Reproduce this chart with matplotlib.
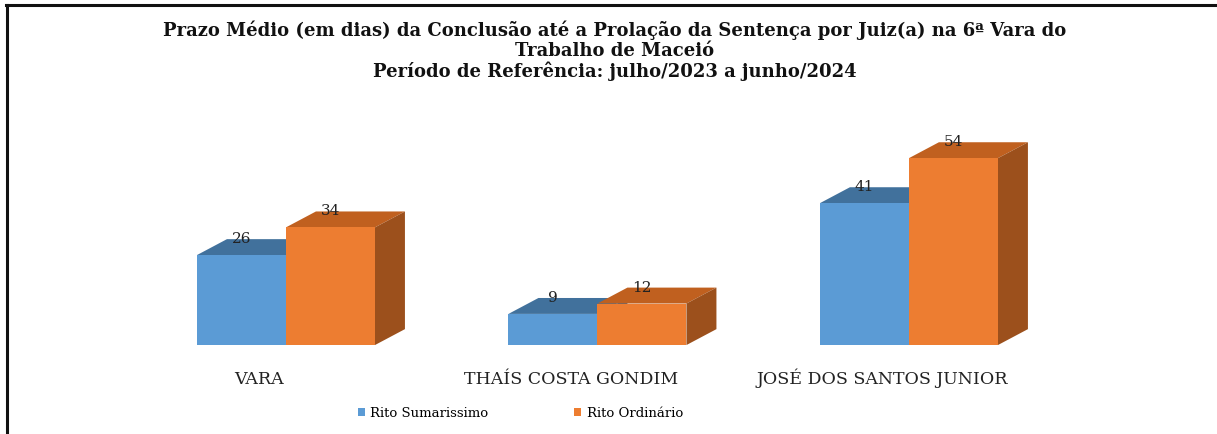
import numpy as np
import matplotlib
matplotlib.use("Agg")
import matplotlib.pyplot as plt
from matplotlib.patches import Polygon, Patch
from matplotlib.lines import Line2D

categories = ["VARA", "THAÍS COSTA GONDIM", "JOSÉ DOS SANTOS JUNIOR"]
sumarissimo = [26, 9, 41]
ordinario = [34, 12, 54]
series_names = ["Rito Sumarissimo", "Rito Ordinário"]

title = ("Prazo Médio (em dias) da Conclusão até a Prolação da Sentença por Juiz(a) na 6ª Vara do\n"
         "Trabalho de Maceió\n"
         "Período de Referência: julho/2023 a junho/2024")

# colours: front, top, side
blue = ("#5b9bd5", "#41719c", "#3d6a94")
orange = ("#ed7d31", "#c0601f", "#9c501c")

plt.rcParams["font.family"] = ["DejaVu Serif", "Liberation Serif"]

fig = plt.figure(figsize=(12.17, 4.34), dpi=100)
ax = fig.add_axes([0, 0, 1, 1])
ax.set_xlim(-0.918, 2.989)
ax.set_ylim(-25.7, 99.7)
ax.axis("off")

w = 0.2857      # bar width
ddx = 0.0963    # depth in x
ddy = 4.6       # depth in y (value units)

x = np.arange(len(categories))

def bar3d(xl, h, cols, z):
    ax.bar(xl, h, width=w, align="edge", color=cols[0], zorder=z + 0.2)
    top = Polygon([(xl, h), (xl + w, h), (xl + w + ddx, h + ddy), (xl + ddx, h + ddy)],
                  closed=True, facecolor=cols[1], edgecolor="none", zorder=z)
    side = Polygon([(xl + w, 0), (xl + w + ddx, ddy), (xl + w + ddx, h + ddy), (xl + w, h)],
                   closed=True, facecolor=cols[2], edgecolor="none", zorder=z)
    ax.add_patch(top)
    ax.add_patch(side)

for i in range(len(categories)):
    bar3d(x[i] - w, sumarissimo[i], blue, 1)
    bar3d(x[i], ordinario[i], orange, 2)
    ax.text(x[i] - w / 2, sumarissimo[i] + ddy, str(sumarissimo[i]), ha="center",
            va="center", fontsize=11, color="#222222", zorder=5)
    ax.text(x[i] + w / 2, ordinario[i] + ddy, str(ordinario[i]), ha="center",
            va="center", fontsize=11, color="#222222", zorder=5)
    ax.text(x[i] - 0.085, -11.2, categories[i], ha="center", va="baseline",
            fontsize=12.5, color="#222222")

fig.text(0.505, 0.952, title, ha="center", va="top", fontsize=13,
         fontweight="bold", linespacing=1.1, color="#111111")

handles = [Patch(facecolor=blue[0]), Patch(facecolor=orange[0])]
fig.legend(handles, series_names, loc="center", bbox_to_anchor=(0.4275, 0.048),
           ncol=2, frameon=False, fontsize=9.5, handlelength=0.55, handleheight=0.55,
           handletextpad=0.4, columnspacing=6.5)

# frame lines (top and left)
fig.add_artist(Line2D([0.005, 1.0], [0.989, 0.989], color="#111111", lw=2.2,
                      transform=fig.transFigure))
fig.add_artist(Line2D([0.0055, 0.0055], [0.0, 0.989], color="#111111", lw=2.2,
                      transform=fig.transFigure))

fig.savefig("out.png", dpi=100)
